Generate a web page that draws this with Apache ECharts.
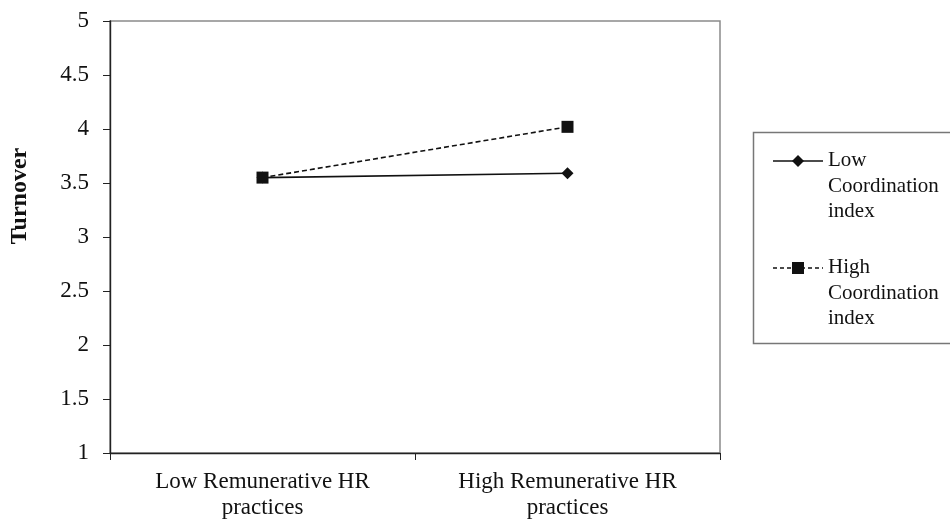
<!DOCTYPE html>
<html><head><meta charset="utf-8">
<script src="https://cdn.jsdelivr.net/npm/echarts@6/dist/echarts.min.js"></script>
<style>html,body{margin:0;padding:0;background:#fff}#c{width:950px;height:523px}</style>
</head><body><div id="c"></div>
<script>
const categories = ['Low Remunerative HR\npractices', 'High Remunerative HR\npractices'];
const lowCoord = [3.55, 3.59];
const highCoord = [3.55, 4.02];
const yTicks = ['1','1.5','2','2.5','3','3.5','4','4.5','5'];
const seriesNames = ['Low\nCoordination\nindex', 'High\nCoordination\nindex'];

const font = 'Liberation Serif, Times New Roman, serif';
const chart = echarts.init(document.getElementById('c'));
const lx = 773, ly1 = 161, ly2 = 268;
chart.setOption({
  animation: false,
  grid: {left: 108, top: 21, right: 230, bottom: 70, show: true, borderColor: '#8a8a8a', borderWidth: 1.5},
  xAxis: {
    type: 'category', data: categories, boundaryGap: true,
    axisLine: {lineStyle: {color: '#222', width: 1.4}},
    axisTick: {show: true, length: 7, lineStyle: {color: '#222'}},
    axisLabel: {color: '#111', fontFamily: font, fontSize: 23, lineHeight: 26, margin: 16}
  },
  yAxis: {
    type: 'value', min: 1, max: 5, interval: 0.5,
    name: 'Turnover', nameLocation: 'middle', nameGap: 78, nameRotate: 90,
    nameTextStyle: {fontFamily: font, fontWeight: 'bold', fontSize: 24, color: '#111', padding: [0, 0, 0, 82]},
    splitLine: {show: false},
    axisLine: {show: true, lineStyle: {color: '#222', width: 1.4}},
    axisTick: {show: true, length: 7, lineStyle: {color: '#222'}},
    axisLabel: {color: '#111', fontFamily: font, fontSize: 23, margin: 21,
      formatter: v => yTicks[Math.round((v - 1) * 2)]}
  },
  series: [
    {name: seriesNames[0], type: 'line', data: lowCoord, symbol: 'diamond', symbolSize: 12,
     lineStyle: {color: '#111', width: 1.6, type: 'solid'}, itemStyle: {color: '#111'}},
    {name: seriesNames[1], type: 'line', data: highCoord, symbol: 'rect', symbolSize: 12,
     lineStyle: {color: '#111', width: 1.6, type: [5, 3]}, itemStyle: {color: '#111'}}
  ],
  graphic: [
    {type: 'rect', shape: {x: 753.5, y: 132.5, width: 205, height: 211}, style: {fill: 'none', stroke: '#777', lineWidth: 1.5}},
    {type: 'line', shape: {x1: lx, y1: ly1, x2: lx + 50, y2: ly1}, style: {stroke: '#111', lineWidth: 1.6}},
    {type: 'polygon', shape: {points: [[lx+25, ly1-6],[lx+31, ly1],[lx+25, ly1+6],[lx+19, ly1]]}, style: {fill: '#111'}},
    {type: 'text', x: 828, y: ly1 - 13, style: {text: seriesNames[0], font: '21px ' + font, fill: '#111', lineHeight: 25.5}},
    {type: 'line', shape: {x1: lx, y1: ly2, x2: lx + 50, y2: ly2}, style: {stroke: '#111', lineWidth: 1.6, lineDash: [4, 3]}},
    {type: 'rect', shape: {x: lx + 19, y: ly2 - 6, width: 12, height: 12}, style: {fill: '#111'}},
    {type: 'text', x: 828, y: ly2 - 13, style: {text: seriesNames[1], font: '21px ' + font, fill: '#111', lineHeight: 25.5}}
  ]
});
</script></body></html>
